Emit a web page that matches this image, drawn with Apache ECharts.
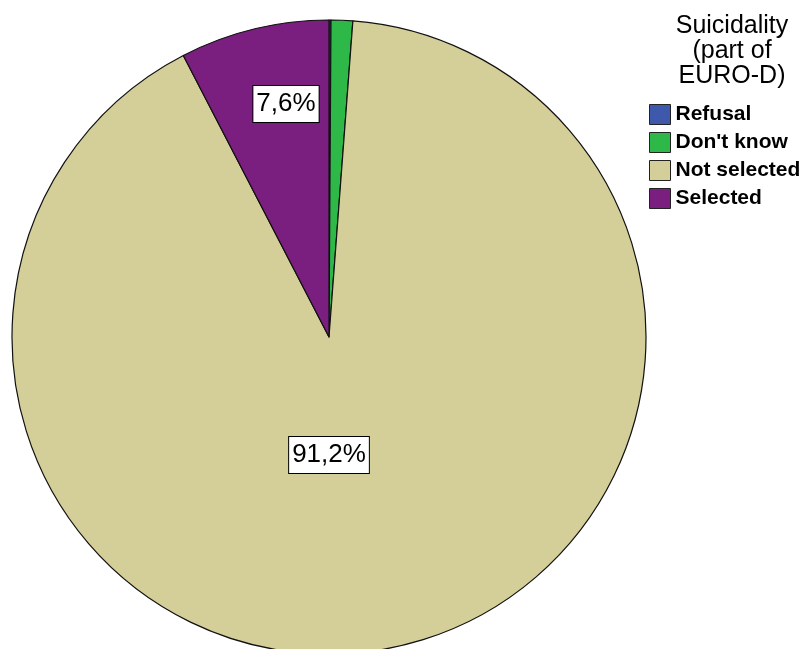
<!DOCTYPE html>
<html>
<head>
<meta charset="utf-8">
<script src="https://cdn.jsdelivr.net/npm/echarts@6/dist/echarts.min.js"></script>
<style>
html,body{margin:0;padding:0;background:#fff;}
#main{width:806px;height:649px;}
</style>
</head>
<body>
<div id="main"></div>
<script>
// Data
const categories = ["Refusal", "Don't know", "Not selected", "Selected"];
const values = [0.1, 1.1, 91.2, 7.6];
const labelTexts = ["", "", "91,2%", "7,6%"];
const colors = ["#3e58ac", "#2eb848", "#d4cf98", "#7a1e80"];
const legendTitle = "Suicidality\n(part of\nEURO-D)";

// Layout
const CX = 329, CY = 337, R = 317;
const labelOffsets = {2: [0, 118], 3: [-43, -233]};

const chart = echarts.init(document.getElementById('main'), null, {renderer: 'canvas'});
const font = "'Liberation Sans', Arial, sans-serif";

chart.setOption({
  animation: false,
  backgroundColor: '#fff',
  title: {
    text: legendTitle,
    left: 727,
    top: 9,
    textAlign: 'center',
    textStyle: {fontFamily: font, fontSize: 25, fontWeight: 'normal', color: '#000', lineHeight: 25, align: 'center'}
  },
  legend: {
    orient: 'vertical',
    left: 649,
    top: 104,
    padding: 0,
    itemWidth: 21,
    itemHeight: 20,
    itemGap: 7,
    icon: 'rect',
    data: categories,
    itemStyle: {borderColor: '#222', borderWidth: 1},
    textStyle: {fontFamily: font, fontSize: 21, fontWeight: 'bold', color: '#000'}
  },
  series: [{
    type: 'pie',
    center: [CX, CY],
    radius: [0, R],
    startAngle: 90,
    clockwise: true,
    avoidLabelOverlap: false,
    itemStyle: {borderColor: '#111', borderWidth: 1.2},
    emphasis: {disabled: true},
    labelLine: {show: false},
    label: {
      show: true,
      position: 'inside',
      fontFamily: font,
      fontSize: 26,
      color: '#000',
      backgroundColor: '#fff',
      borderColor: '#000',
      borderWidth: 1,
      padding: [6, 3, 4, 3],
      formatter: p => labelTexts[p.dataIndex]
    },
    labelLayout: function (p) {
      const o = labelOffsets[p.dataIndex];
      if (!o) return {};
      return {x: CX + o[0], y: CY + o[1], align: 'center', verticalAlign: 'middle'};
    },
    data: categories.map((c, i) => ({
      name: c,
      value: values[i],
      itemStyle: {color: colors[i]},
      label: {show: labelTexts[i] !== ""}
    }))
  }]
});
</script>
</body>
</html>
